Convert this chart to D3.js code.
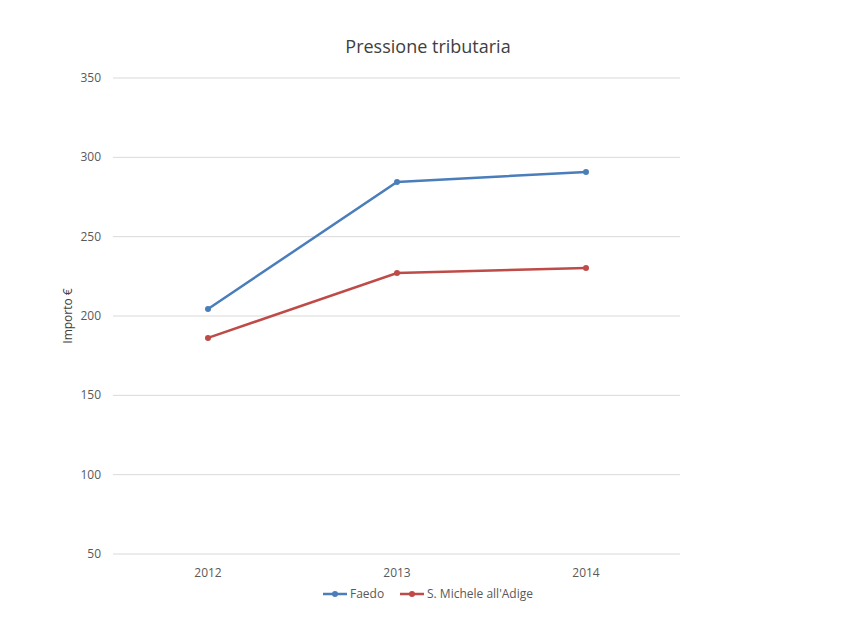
<!DOCTYPE html>
<html><head><meta charset="utf-8">
<script src="https://cdn.jsdelivr.net/npm/d3@7"></script>
<style>body{margin:0;background:#fff}text{font-family:"Open Sans","Liberation Sans",sans-serif}</style>
</head><body><svg id="c" width="850" height="638"></svg>
<script>
const categories = ["2012","2013","2014"];
const faedo = [204.4, 284.5, 290.8];
const sMichele = [186.2, 227.1, 230.3];
const yTicks = [50,100,150,200,250,300,350];
const seriesNames = ["Faedo","S. Michele all'Adige"];
const colors = ["#4A7EBB","#BE4B48"];

const svg = d3.select("#c");
const x = d3.scalePoint().domain(categories).range([208,586]);
const y = d3.scaleLinear().domain([50,350]).range([554,78]);

svg.append("g").selectAll("line").data(yTicks).join("line")
  .attr("x1",113).attr("x2",680).attr("y1",d=>y(d)).attr("y2",d=>y(d))
  .attr("stroke","#d9d9d9").attr("stroke-width",1);
svg.append("g").selectAll("text").data(yTicks).join("text")
  .attr("x",101).attr("y",d=>y(d)+4).attr("text-anchor","end")
  .attr("font-size",12).attr("fill","#595959").text(d=>d);
svg.append("g").selectAll("text").data(categories).join("text")
  .attr("x",d=>x(d)).attr("y",577).attr("text-anchor","middle")
  .attr("font-size",12).attr("fill","#595959").text(d=>d);

svg.append("text").attr("x",428).attr("y",53).attr("text-anchor","middle")
  .attr("font-size",18).attr("fill","#404040").text("Pressione tributaria");
svg.append("text").attr("transform","translate(72,316) rotate(-90)").attr("text-anchor","middle")
  .attr("font-size",12).attr("fill","#404040").text("Importo €");

const line = d3.line().x((d,i)=>x(categories[i])).y(d=>y(d));
[faedo,sMichele].forEach((s,k)=>{
  svg.append("path").attr("d",line(s)).attr("fill","none").attr("stroke",colors[k]).attr("stroke-width",2.5);
  svg.append("g").selectAll("circle").data(s).join("circle")
    .attr("cx",(d,i)=>x(categories[i])).attr("cy",d=>y(d)).attr("r",3).attr("fill",colors[k]);
});

const lx=[323,400];
seriesNames.forEach((n,k)=>{
  const g=svg.append("g");
  g.append("line").attr("x1",lx[k]).attr("x2",lx[k]+24).attr("y1",594).attr("y2",594).attr("stroke",colors[k]).attr("stroke-width",2.5);
  g.append("circle").attr("cx",lx[k]+12).attr("cy",594).attr("r",3).attr("fill",colors[k]);
  g.append("text").attr("x",lx[k]+27).attr("y",598).attr("font-size",12).attr("fill","#595959").text(n);
});
</script></body></html>
